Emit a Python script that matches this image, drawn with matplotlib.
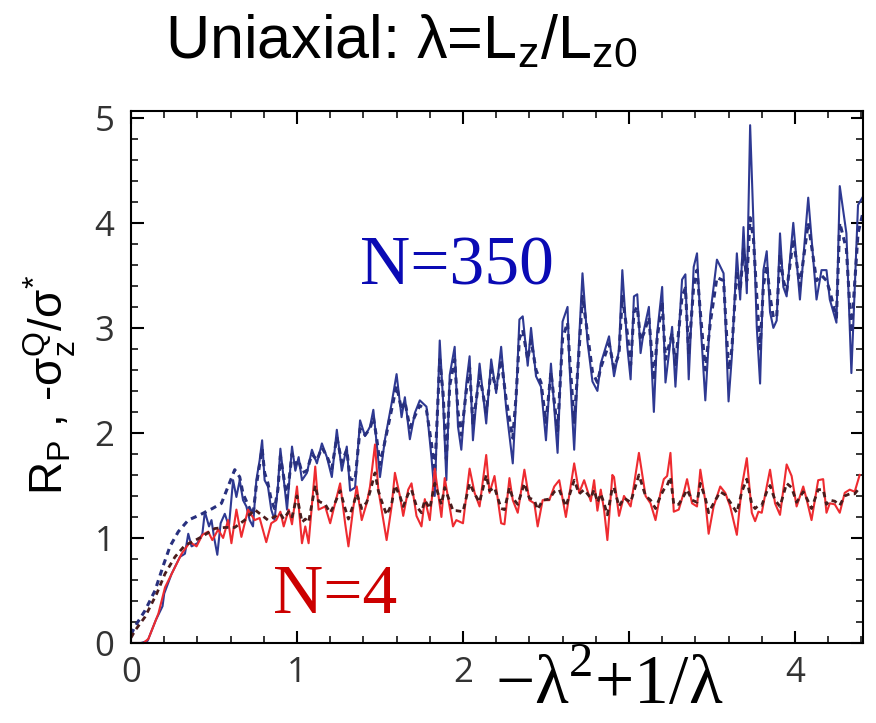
import matplotlib
matplotlib.use("Agg")
import matplotlib.pyplot as plt
from matplotlib.ticker import MultipleLocator

# N=350, simulation (solid)
blue_x = [0.00, 0.06, 0.10, 0.15, 0.19, 0.20, 0.245, 0.295, 0.325, 0.345, 0.365, 0.40, 0.43, 0.445, 0.47,
          0.485, 0.50, 0.52, 0.54, 0.565, 0.59, 0.615, 0.635, 0.655, 0.675, 0.695, 0.715, 0.735, 0.755, 0.775,
          0.79, 0.805, 0.825, 0.845, 0.865, 0.885, 0.90, 0.94, 0.97, 0.99, 1.01, 1.03, 1.06, 1.09, 1.12,
          1.15, 1.18, 1.21, 1.24, 1.27, 1.30, 1.32, 1.35, 1.38, 1.41, 1.44, 1.46, 1.48, 1.50, 1.53,
          1.57, 1.60, 1.63, 1.65, 1.68, 1.71, 1.74, 1.78, 1.81, 1.83, 1.86, 1.88, 1.90, 1.92, 1.95,
          1.97, 1.99, 2.02, 2.04, 2.06, 2.10, 2.14, 2.17, 2.20, 2.23, 2.26, 2.30, 2.32, 2.34, 2.36,
          2.39, 2.41, 2.44, 2.47, 2.50, 2.53, 2.57, 2.60, 2.63, 2.64, 2.67, 2.70, 2.72, 2.75, 2.78,
          2.81, 2.83, 2.88, 2.91, 2.94, 2.96, 2.99, 3.01, 3.03, 3.05, 3.07, 3.09, 3.12, 3.15, 3.17,
          3.20, 3.22, 3.26, 3.28, 3.32, 3.34, 3.36, 3.39, 3.41, 3.43, 3.46, 3.49, 3.53, 3.57, 3.60,
          3.62, 3.65, 3.67, 3.69, 3.71, 3.73, 3.75, 3.77, 3.79, 3.81, 3.83, 3.85, 3.87, 3.89, 3.91,
          3.93, 3.95, 3.99, 4.03, 4.08, 4.13, 4.16, 4.19, 4.21, 4.25, 4.27, 4.31, 4.34, 4.38, 4.41]
blue_y = [0.00, 0.00, 0.02, 0.22, 0.35, 0.47, 0.66, 0.82, 0.85, 1.04, 0.92, 0.95, 1.04, 1.25, 1.11,
          1.17, 1.01, 0.84, 1.14, 1.23, 1.11, 1.55, 1.39, 1.55, 1.36, 1.30, 1.17, 1.11, 1.55, 1.74,
          1.93, 1.55, 1.49, 1.27, 1.17, 1.49, 1.85, 1.27, 1.87, 1.64, 1.77, 1.55, 1.62, 1.84, 1.71,
          1.90, 1.77, 1.58, 2.03, 1.64, 1.87, 1.45, 1.48, 2.12, 1.97, 2.06, 2.22, 1.90, 1.58, 1.94,
          2.28, 2.56, 2.15, 2.34, 1.94, 2.19, 2.31, 2.25, 1.77, 1.40, 2.88, 2.31, 1.55, 2.55, 2.82,
          2.06, 1.84, 2.47, 2.73, 1.93, 2.66, 2.09, 2.70, 2.38, 2.82, 2.24, 1.71, 2.32, 3.08, 3.11,
          2.64, 3.00, 2.54, 2.44, 1.93, 2.66, 1.81, 3.06, 3.20, 2.69, 1.84, 2.90, 3.52, 2.87, 2.49,
          2.40, 2.66, 2.92, 2.54, 2.79, 3.55, 2.82, 2.51, 3.30, 3.32, 2.76, 2.98, 3.20, 2.20, 2.95,
          3.39, 2.48, 3.01, 2.44, 3.46, 3.51, 2.51, 3.58, 3.71, 3.08, 2.31, 3.13, 3.65, 3.52, 2.30,
          2.73, 3.71, 3.27, 3.96, 3.33, 4.93, 4.00, 3.01, 2.47, 3.55, 3.73, 3.15, 3.00, 3.07, 3.90,
          3.39, 3.30, 4.00, 3.27, 4.24, 3.27, 3.55, 3.55, 3.27, 3.05, 4.35, 3.90, 2.57, 4.17, 4.25]

# N=350, second curve (dotted)
blue_dash_x = [0.00, 0.025, 0.085, 0.145, 0.195, 0.235, 0.285, 0.345, 0.415, 0.49, 0.545, 0.625,
               0.655, 0.675, 0.695, 0.715, 0.735, 0.755, 0.775, 0.79, 0.805, 0.825, 0.845, 0.865, 0.885,
               0.90, 0.94, 0.97, 0.99, 1.01, 1.03, 1.06, 1.09, 1.12, 1.15, 1.18, 1.21, 1.24, 1.27,
               1.30, 1.32, 1.35, 1.38, 1.41, 1.44, 1.46, 1.48, 1.50, 1.53, 1.57, 1.60, 1.63, 1.65,
               1.68, 1.71, 1.74, 1.78, 1.81, 1.83, 1.86, 1.88, 1.90, 1.92, 1.95, 1.97, 1.99, 2.02,
               2.04, 2.06, 2.10, 2.14, 2.17, 2.20, 2.23, 2.26, 2.30, 2.32, 2.34, 2.36, 2.39, 2.41,
               2.44, 2.47, 2.50, 2.53, 2.57, 2.60, 2.63, 2.64, 2.67, 2.70, 2.72, 2.75, 2.78, 2.81,
               2.83, 2.88, 2.91, 2.94, 2.96, 2.99, 3.01, 3.03, 3.05, 3.07, 3.09, 3.12, 3.15, 3.17,
               3.20, 3.22, 3.26, 3.28, 3.32, 3.34, 3.36, 3.39, 3.41, 3.43, 3.46, 3.49, 3.53, 3.57,
               3.60, 3.62, 3.65, 3.67, 3.69, 3.71, 3.73, 3.75, 3.77, 3.79, 3.81, 3.83, 3.85, 3.87,
               3.89, 3.91, 3.93, 3.95, 3.99, 4.03, 4.08, 4.13, 4.16, 4.19, 4.21, 4.25, 4.27, 4.31,
               4.34, 4.38, 4.41]
blue_dash_y = [0.08, 0.16, 0.31, 0.50, 0.74, 0.92, 1.06, 1.17, 1.22, 1.28, 1.33, 1.65,
               1.58, 1.42, 1.35, 1.28, 1.22, 1.50, 1.70, 1.85, 1.62, 1.52, 1.36, 1.28, 1.46,
               1.78, 1.38, 1.80, 1.70, 1.74, 1.62, 1.64, 1.80, 1.74, 1.86, 1.78, 1.66, 1.96, 1.72,
               1.84, 1.56, 1.55, 2.04, 1.98, 2.04, 2.15, 1.95, 1.70, 1.92, 2.22, 2.45, 2.22, 2.30,
               2.05, 2.16, 2.26, 2.22, 1.90, 1.62, 2.70, 2.38, 1.75, 2.45, 2.70, 2.20, 1.98, 2.40,
               2.62, 2.08, 2.55, 2.20, 2.60, 2.42, 2.70, 2.32, 1.95, 2.35, 2.90, 2.98, 2.70, 2.88,
               2.60, 2.48, 2.10, 2.58, 2.02, 2.90, 3.05, 2.78, 2.10, 2.80, 3.30, 2.95, 2.58, 2.48,
               2.62, 2.85, 2.62, 2.75, 3.30, 2.95, 2.65, 3.15, 3.20, 2.88, 2.95, 3.10, 2.50, 2.90,
               3.25, 2.70, 2.95, 2.65, 3.30, 3.38, 2.75, 3.40, 3.55, 3.15, 2.60, 3.05, 3.48, 3.45,
               2.60, 2.80, 3.55, 3.35, 3.75, 3.45, 4.05, 3.85, 3.30, 2.80, 3.40, 3.60, 3.30, 3.10,
               3.10, 3.70, 3.45, 3.35, 3.85, 3.40, 4.00, 3.45, 3.50, 3.45, 3.35, 3.10, 4.00, 3.75,
               2.95, 3.90, 4.10]

# N=4, simulation (solid)
red_x = [0.00, 0.075, 0.105, 0.165, 0.205, 0.255, 0.305, 0.355, 0.395, 0.43, 0.465, 0.49, 0.525, 0.555,
         0.585, 0.605, 0.635, 0.665, 0.705, 0.745, 0.775, 0.815, 0.845, 0.875, 0.90, 0.92, 0.95, 0.97,
         1.00, 1.03, 1.05, 1.07, 1.11, 1.13, 1.17, 1.20, 1.22, 1.26, 1.29, 1.31, 1.34, 1.36, 1.39,
         1.42, 1.44, 1.47, 1.49, 1.51, 1.54, 1.57, 1.59, 1.62, 1.64, 1.67, 1.69, 1.72, 1.75, 1.77,
         1.80, 1.83, 1.87, 1.89, 1.94, 1.96, 2.00, 2.04, 2.07, 2.10, 2.14, 2.16, 2.19, 2.23, 2.25,
         2.28, 2.30, 2.33, 2.37, 2.40, 2.43, 2.45, 2.48, 2.52, 2.55, 2.58, 2.62, 2.67, 2.70, 2.73,
         2.77, 2.79, 2.81, 2.83, 2.85, 2.87, 2.90, 2.91, 2.94, 2.97, 3.01, 3.06, 3.10, 3.13, 3.16,
         3.19, 3.21, 3.23, 3.25, 3.27, 3.30, 3.33, 3.35, 3.38, 3.41, 3.43, 3.46, 3.48, 3.51, 3.55,
         3.58, 3.61, 3.65, 3.68, 3.71, 3.74, 3.76, 3.78, 3.80, 3.83, 3.85, 3.88, 3.91, 3.95, 3.98,
         4.01, 4.05, 4.07, 4.10, 4.14, 4.17, 4.19, 4.21, 4.24, 4.27, 4.30, 4.33, 4.36, 4.39]
red_y = [0.00, 0.00, 0.04, 0.28, 0.53, 0.69, 0.85, 0.96, 0.92, 1.03, 1.06, 0.98, 1.08, 1.00,
         1.17, 0.95, 1.27, 1.01, 1.27, 1.17, 1.19, 0.96, 1.14, 1.17, 1.25, 1.11, 1.27, 1.13,
         1.49, 0.95, 1.11, 0.95, 1.68, 1.27, 1.30, 1.14, 1.27, 1.52, 1.14, 0.92, 1.30, 1.49, 1.17,
         1.33, 1.49, 1.89, 1.46, 1.27, 0.98, 1.30, 1.62, 1.40, 1.21, 1.46, 1.52, 1.21, 1.11, 1.37,
         1.17, 1.66, 1.20, 1.57, 1.11, 1.17, 1.14, 1.66, 1.43, 1.30, 1.79, 1.43, 1.59, 1.14, 1.13,
         1.57, 1.36, 1.24, 1.65, 1.36, 1.33, 1.11, 1.36, 1.36, 1.49, 1.55, 1.20, 1.71, 1.43, 1.55,
         1.35, 1.55, 1.26, 1.46, 1.27, 0.98, 1.60, 1.58, 1.21, 1.40, 1.30, 1.81, 1.40, 1.33, 1.17,
         1.43, 1.56, 1.59, 1.81, 1.25, 1.27, 1.43, 1.56, 1.33, 1.30, 1.65, 1.35, 1.04, 1.30, 1.49,
         1.43, 1.30, 1.03, 1.49, 1.76, 1.24, 1.16, 1.25, 1.24, 1.49, 1.65, 1.33, 1.22, 1.70, 1.59,
         1.30, 1.49, 1.37, 1.17, 1.55, 1.56, 1.24, 1.33, 1.32, 1.24, 1.43, 1.46, 1.44, 1.60]

# N=4, second curve (dashed)
dark_x = [0.00, 0.025, 0.085, 0.155, 0.205, 0.265, 0.325, 0.365, 0.425, 0.505, 0.565, 0.625, 0.685,
          0.745, 0.825, 0.90, 0.92, 0.95, 0.97, 1.00, 1.03, 1.05, 1.07, 1.11, 1.13, 1.17, 1.20, 1.22,
          1.26, 1.29, 1.31, 1.34, 1.36, 1.39, 1.42, 1.44, 1.47, 1.49, 1.51, 1.54, 1.57, 1.59, 1.62,
          1.64, 1.67, 1.69, 1.72, 1.75, 1.77, 1.80, 1.83, 1.87, 1.89, 1.94, 1.96, 2.00, 2.04, 2.07,
          2.10, 2.14, 2.16, 2.19, 2.23, 2.25, 2.28, 2.30, 2.33, 2.37, 2.40, 2.43, 2.45, 2.48, 2.52,
          2.55, 2.58, 2.62, 2.67, 2.70, 2.73, 2.77, 2.79, 2.81, 2.83, 2.85, 2.87, 2.90, 2.91, 2.94,
          2.97, 3.01, 3.06, 3.10, 3.13, 3.16, 3.19, 3.21, 3.23, 3.25, 3.27, 3.30, 3.33, 3.35, 3.38,
          3.41, 3.43, 3.46, 3.48, 3.51, 3.55, 3.58, 3.61, 3.65, 3.68, 3.71, 3.74, 3.76, 3.78, 3.80,
          3.83, 3.85, 3.88, 3.91, 3.95, 3.98, 4.01, 4.05, 4.07, 4.10, 4.14, 4.17, 4.19, 4.21, 4.24,
          4.27, 4.30, 4.33, 4.36, 4.39]
dark_y = [0.05, 0.12, 0.25, 0.47, 0.66, 0.82, 0.93, 0.96, 1.01, 1.09, 1.10, 1.10, 1.17,
          1.27, 1.17, 1.23, 1.18, 1.25, 1.20, 1.40, 1.15, 1.18, 1.15, 1.50, 1.35, 1.32, 1.24, 1.30,
          1.45, 1.28, 1.18, 1.32, 1.42, 1.28, 1.34, 1.44, 1.62, 1.45, 1.35, 1.22, 1.32, 1.50, 1.40,
          1.30, 1.42, 1.46, 1.30, 1.24, 1.36, 1.28, 1.52, 1.32, 1.48, 1.26, 1.26, 1.25, 1.52, 1.42,
          1.34, 1.60, 1.45, 1.48, 1.28, 1.27, 1.48, 1.38, 1.32, 1.52, 1.38, 1.36, 1.27, 1.36, 1.37,
          1.44, 1.46, 1.30, 1.55, 1.42, 1.46, 1.38, 1.46, 1.34, 1.42, 1.33, 1.22, 1.48, 1.48, 1.30,
          1.38, 1.34, 1.60, 1.40, 1.36, 1.28, 1.40, 1.46, 1.50, 1.58, 1.32, 1.32, 1.40, 1.46, 1.36,
          1.34, 1.52, 1.38, 1.24, 1.33, 1.44, 1.41, 1.34, 1.24, 1.44, 1.56, 1.32, 1.28, 1.31, 1.31,
          1.44, 1.50, 1.36, 1.30, 1.52, 1.48, 1.34, 1.44, 1.38, 1.28, 1.46, 1.46, 1.32, 1.36, 1.35,
          1.31, 1.40, 1.42, 1.42, 1.48]

x_ticks = [0, 1, 2, 3, 4]
x_tick_labels = ["0", "1", "2", "", "4"]
y_ticks = [0, 1, 2, 3, 4, 5]
y_tick_labels = ["0", "1", "2", "3", "4", "5"]

fig = plt.figure(figsize=(8.76, 7.23), dpi=100)
ax = fig.add_axes([131 / 876, 80 / 723, 732 / 876, 532 / 723])

ax.plot(blue_x, blue_y, color="#2e3992", lw=1.5)
ax.plot(blue_dash_x, blue_dash_y, color="#28307e", lw=2.2, linestyle=(0, (2, 1.6)))
ax.plot(red_x, red_y, color="#ee2b30", lw=1.5)
ax.plot(dark_x, dark_y, color="#4a1c1c", lw=2.0, linestyle=(0, (2, 1.6)))

ax.set_xlim(0, 4.41)
ax.set_ylim(0, 5.065)

ax.set_xticks(x_ticks)
ax.set_xticklabels(x_tick_labels)
ax.set_yticks(y_ticks)
ax.set_yticklabels(y_tick_labels)
ax.xaxis.set_minor_locator(MultipleLocator(0.2))
ax.yaxis.set_minor_locator(MultipleLocator(0.2))
ax.tick_params(which="both", direction="in", top=True, right=True, colors="black",
               labelcolor="#333333", labelsize=25)
ax.tick_params(which="major", length=9, width=1.5)
ax.tick_params(which="minor", length=5, width=1.1)
ax.tick_params(axis="x", pad=9)
ax.tick_params(axis="y", pad=12)
for lab in ax.get_xticklabels() + ax.get_yticklabels():
    lab.set_family("Open Sans")
for sp in ax.spines.values():
    sp.set_linewidth(1.5)

# curve labels
ax.text(1.38, 3.41, "N=350", color="#0a0ab4", fontsize=50, family="Liberation Serif")
ax.text(0.855, 0.29, "N=4", color="#cc0000", fontsize=50, family="Liberation Serif")

# title and axis labels
fig.text(165 / 876, 1 - 58 / 723, r"Uniaxial: λ=L$_\mathregular{z}$/L$_\mathregular{z0}$",
         fontsize=44, family="Liberation Sans", ha="left", va="baseline")
fig.text(50 / 876, 1 - 385 / 723,
         r"R$_\mathregular{P}$ , -σ$_\mathregular{z}^\mathregular{Q}$/σ$^\mathregular{*}$",
         fontsize=33, family="Liberation Sans", rotation=90, ha="center", va="center")
# x label sits low, just under the tick labels
fig.text(609 / 876, 4 / 723, r"−λ$^\mathregular{2}$+1/λ", fontsize=50, family="Liberation Serif",
         ha="center", va="bottom")

fig.savefig("out.png", dpi=100)
